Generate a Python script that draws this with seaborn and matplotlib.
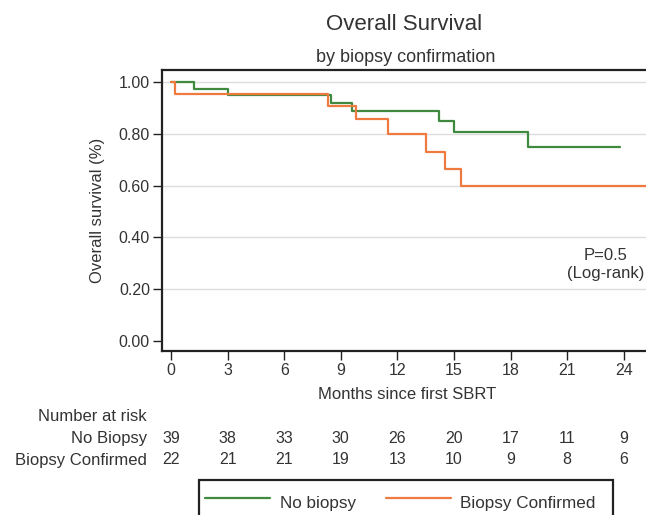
import matplotlib
matplotlib.use("Agg")
import matplotlib.pyplot as plt
import matplotlib.transforms as mtransforms
from matplotlib.lines import Line2D
from matplotlib.patches import Rectangle
import seaborn as sns
import pandas as pd

# ---- data ----
groups = ["No biopsy", "Biopsy Confirmed"]
nobiopsy_months = [0, 1.2, 3.0, 8.5, 9.6, 14.2, 15.0, 18.9, 23.8]
nobiopsy_surv = [1.0, 0.974, 0.949, 0.920, 0.888, 0.848, 0.809, 0.751, 0.751]
biopsy_months = [0, 0.2, 8.3, 9.8, 11.5, 13.5, 14.5, 15.35, 25.2]
biopsy_surv = [1.0, 0.955, 0.909, 0.856, 0.800, 0.729, 0.664, 0.600, 0.600]

xticks = [0, 3, 6, 9, 12, 15, 18, 21, 24]
yticks = [0.0, 0.2, 0.4, 0.6, 0.8, 1.0]
risk_labels = ["No Biopsy", "Biopsy Confirmed"]
risk_nobiopsy = [39, 38, 33, 30, 26, 20, 17, 11, 9]
risk_biopsy = [22, 21, 21, 19, 13, 10, 9, 8, 6]

colors = {"No biopsy": "#3f8a3f", "Biopsy Confirmed": "#ee7a40"}

df = pd.concat([
    pd.DataFrame({"month": nobiopsy_months, "surv": nobiopsy_surv, "group": groups[0]}),
    pd.DataFrame({"month": biopsy_months, "surv": biopsy_surv, "group": groups[1]}),
], ignore_index=True)

sns.set_theme(style="white")
plt.rcParams["font.family"] = ["Liberation Sans", "DejaVu Sans"]
TXT = "#333333"

W, H = 646, 515
fig = plt.figure(figsize=(W / 100, H / 100), dpi=100)
ax_left, ax_right, ax_top, ax_bottom = 161.8, 652.0, 70.0, 350.8
ax = fig.add_axes([ax_left / W, 1 - ax_bottom / H, (ax_right - ax_left) / W, (ax_bottom - ax_top) / H])

sns.lineplot(data=df, x="month", y="surv", hue="group", palette=colors,
             drawstyle="steps-post", estimator=None, sort=False, legend=False,
             linewidth=1.6, ax=ax)

ax.set_xlim(-0.49, 25.5)
ax.set_ylim(-0.039, 1.047)
ax.set_xticks(xticks)
ax.set_xticklabels([str(t) for t in xticks])
ax.set_yticks(yticks)
ax.set_yticklabels([f"{t:.2f}" for t in yticks])

ax.yaxis.grid(True, color="#dcdcdc", linewidth=1.0)
ax.xaxis.grid(False)
ax.get_ygridlines()[0].set_visible(False)
ax.set_axisbelow(True)

for s in ["top", "left", "bottom"]:
    ax.spines[s].set_color("#222222")
    ax.spines[s].set_linewidth(1.6)
ax.spines["right"].set_visible(False)

ax.tick_params(axis="both", direction="out", length=6.5, width=1.0, color="#222222",
               labelsize=11.5, labelcolor=TXT, pad=2, bottom=True, left=True)

ax.set_xlabel("Months since first SBRT", fontsize=12, color=TXT)
ax.xaxis.label.set_va("center")
ax.xaxis.set_label_coords((407 - ax_left) / (ax_right - ax_left), -(394.5 - ax_bottom) / (ax_bottom - ax_top))
ax.set_ylabel("Overall survival (%)", fontsize=12, color=TXT)
ax.yaxis.label.set_va("center")
ax.yaxis.set_label_coords((98 - ax_left) / (ax_right - ax_left), 0.5)

ax.text(23.05, 0.296, "P=0.5\n(Log-rank)", ha="center", va="center", fontsize=12,
        color=TXT, linespacing=1.25)

# titles
fig.text(404 / W, 1 - 25 / H, "Overall Survival", ha="center", va="center", fontsize=16, color=TXT)
fig.text(406 / W, 1 - 57 / H, "by biopsy confirmation", ha="center", va="center", fontsize=13, color=TXT)

# number at risk table
trans = mtransforms.blended_transform_factory(ax.transData, fig.transFigure)
fig.text(146.7 / W, 1 - 416.7 / H, "Number at risk", ha="right", va="center", fontsize=12, color=TXT)
for lab, vals, ypx in [(risk_labels[0], risk_nobiopsy, 438.3), (risk_labels[1], risk_biopsy, 460.0)]:
    fig.text(146.7 / W, 1 - ypx / H, lab, ha="right", va="center", fontsize=12, color=TXT)
    for t, v in zip(xticks, vals):
        ax.text(t, 1 - ypx / H, str(v), transform=trans, ha="center", va="center",
                fontsize=11.5, color=TXT, clip_on=False)

# legend (frame drawn separately, running off the bottom edge as in the reference)
handles = [Line2D([], [], color=colors[g], linewidth=1.6) for g in groups]
leg = fig.legend(handles, groups, loc="upper left", bbox_to_anchor=(199.3 / W, 1 - 482 / H),
                 ncol=2, frameon=False, fontsize=12.3, handlelength=3.8,
                 handletextpad=0.55, columnspacing=1.75, borderpad=0.35, handleheight=2.2,
                 borderaxespad=0)
for txt in leg.get_texts():
    txt.set_color(TXT)
fig.patches.append(Rectangle((199.3 / W, 1 - 530 / H), (612.7 - 199.3) / W, (530 - 480) / H,
                             transform=fig.transFigure, fill=False, edgecolor="#222222",
                             linewidth=1.6))

fig.savefig("out.png", dpi=100)
